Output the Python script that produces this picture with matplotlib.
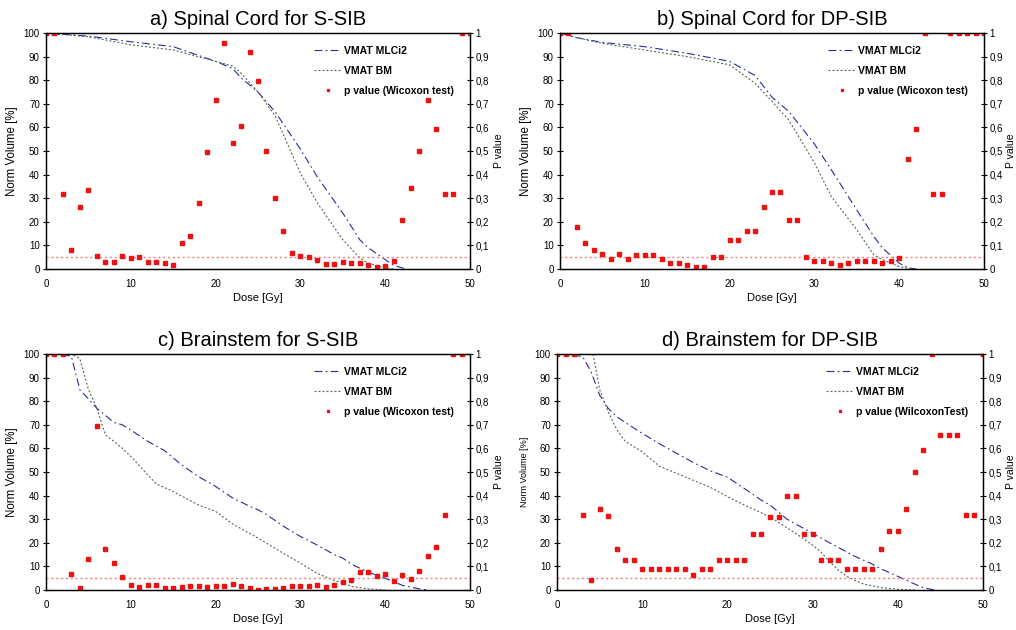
import numpy as np
import matplotlib
matplotlib.use("Agg")
import matplotlib.pyplot as plt
from matplotlib.ticker import MultipleLocator, FuncFormatter

plt.rcParams['font.family'] = ['Liberation Sans', 'DejaVu Sans']

nan = np.nan
p_dose = list(range(51))

# --- a) Spinal Cord for S-SIB
a_dose = [0, 5, 10, 15, 20, 22, 23, 25, 27, 30, 32, 35, 37, 38, 40, 41, 42, 42.5]
a_mlc = [100, 98.7, 96.3, 94.2, 88, 85, 81, 75, 66.7, 50.8, 39, 23.7, 12.4, 9, 4, 1.5, 0.5, 0]
a_bm_dose = [0, 5, 10, 15, 20, 22, 23, 25, 27, 30, 32, 35, 37, 38, 40, 41]
a_bm = [100, 98.4, 95, 92.8, 88, 86, 83, 75, 65, 40.6, 28, 12.4, 4.7, 2.5, 0.4, 0]
a_p = [1.0, 1.0, 0.319, 0.079, 0.264, 0.333, 0.054, 0.030, 0.030, 0.055,
       0.047, 0.052, 0.030, 0.030, 0.025, 0.018, 0.111, 0.140, 0.281, 0.495,
       0.718, 0.959, 0.535, 0.606, 0.918, 0.795, 0.501, 0.299, 0.161, 0.069,
       0.055, 0.049, 0.038, 0.023, 0.020, 0.030, 0.027, 0.024, 0.016, 0.010,
       0.014, 0.035, 0.207, 0.344, 0.501, 0.716, 0.594, 0.317, 0.317, 1.0, 1.0]

# --- b) Spinal Cord for DP-SIB
b_dose = [0, 2, 5, 10, 15, 20, 23, 25, 27, 30, 32, 35, 37, 38, 40, 41, 42]
b_mlc = [100, 98, 96, 94.2, 91.4, 88, 82, 72.8, 66.7, 53, 42, 25, 13.8, 9, 2.5, 0.5, 0]
b_bm_dose = [0, 2, 5, 10, 15, 20, 23, 25, 27, 30, 32, 35, 37, 38, 40, 41, 42]
b_bm = [100, 98, 95.6, 92.8, 90, 86.5, 78.7, 71, 63, 45, 30.7, 16.6, 6, 4, 1, 0.3, 0]
b_p = [1.0, 1.0, 0.179, 0.109, 0.080, 0.063, 0.044, 0.063, 0.044, 0.061,
       0.061, 0.061, 0.044, 0.027, 0.027, 0.018, 0.010, 0.010, 0.049, 0.049,
       0.123, 0.123, 0.162, 0.162, 0.264, 0.327, 0.327, 0.207, 0.207, 0.049,
       0.035, 0.035, 0.025, 0.016, 0.025, 0.035, 0.035, 0.035, 0.025, 0.035,
       0.045, 0.465, 0.594, 1.0, 0.319, 0.319, 1.0, 1.0, 1.0, 1.0, 1.0]

# --- c) Brainstem for S-SIB
c_dose = [0, 2, 3, 4, 5, 6, 7, 8, 9, 10, 12, 14, 16, 18, 20, 22, 24, 25, 26,
          28, 30, 32, 34, 35, 36, 38, 40, 42, 44, 45]
c_mlc = [100, 100, 98.9, 84.8, 81, 77, 74, 71, 70, 67.8, 63, 59, 53, 48, 43.9,
         39, 35.5, 34, 32, 27, 22.7, 19, 15, 13.5, 11, 7.5, 5, 2, 0.5, 0]
c_bm_dose = [0, 3, 4, 5, 6, 7, 8, 9, 10, 12, 13, 15, 18, 20, 22, 25, 28, 30,
             32, 34, 35, 36, 38, 40]
c_bm = [100, 100, 98, 85, 77, 65.7, 63, 60, 56.6, 48.8, 45, 41.7, 36, 33.3,
        28, 22, 15.5, 11.4, 7, 4, 3, 1.5, 0.5, 0]
c_p = [1.0, 1.0, 1.0, 0.068, 0.010, 0.130, 0.695, 0.172, 0.115, 0.055,
       0.021, 0.013, 0.021, 0.021, 0.007, 0.008, 0.014, 0.016, 0.016, 0.013,
       0.016, 0.016, 0.027, 0.018, 0.007, 0.001, 0.006, 0.006, 0.007, 0.016,
       0.018, 0.018, 0.020, 0.014, 0.023, 0.034, 0.044, 0.075, 0.075, 0.059,
       0.068, 0.038, 0.063, 0.048, 0.080, 0.145, 0.181, 0.319, 1.0, 1.0, nan]

# --- d) Brainstem for DP-SIB
d_dose = [0, 3, 4, 5, 6, 7, 8, 10, 12, 14, 16, 18, 20, 22, 24, 25, 27, 30, 32,
          35, 37, 38, 40, 42, 43, 44, 44.5]
d_mlc = [100, 99, 92.5, 82.6, 77, 73.5, 71, 66.4, 62, 58, 54, 50.5, 47.8, 43,
         38, 36, 30, 24, 20, 14.2, 11, 9, 5.8, 2.5, 1, 0.2, 0]
d_bm_dose = [0, 4.2, 4.5, 5, 6, 7, 8, 10, 12, 14, 16, 18, 20, 22, 25, 28, 30,
             31, 32, 33, 34, 35, 36, 38, 40, 42]
d_bm = [100, 100, 95, 85, 75.6, 68, 63, 58.6, 52.5, 49.5, 46.5, 43.5, 39.6,
        36, 31, 24, 19, 16, 12, 8.5, 5.8, 4, 2.5, 1, 0.3, 0]
d_p = [1.0, 1.0, 1.0, 0.317, 0.042, 0.344, 0.312, 0.175, 0.127, 0.127,
       0.090, 0.090, 0.090, 0.090, 0.090, 0.090, 0.062, 0.090, 0.090, 0.127,
       0.127, 0.127, 0.127, 0.236, 0.236, 0.310, 0.310, 0.398, 0.398, 0.236,
       0.236, 0.127, 0.127, 0.127, 0.090, 0.090, 0.090, 0.090, 0.172, 0.248,
       0.248, 0.344, 0.502, 0.594, 1.0, 0.656, 0.656, 0.656, 0.317, 0.317, 1.0]

panels = [
    ("a) Spinal Cord for S-SIB", a_dose, a_mlc, a_bm_dose, a_bm, a_p,
     "p value (Wicoxon test)", [46, 33, 424, 236], 8.3, 1.057),
    ("b) Spinal Cord for DP-SIB", b_dose, b_mlc, b_bm_dose, b_bm, b_p,
     "p value (Wicoxon test)", [560, 33, 424, 236], 8.3, 1.052),
    ("c) Brainstem for S-SIB", c_dose, c_mlc, c_bm_dose, c_bm, c_p,
     "p value (Wicoxon test)", [46, 354, 424, 236], 8.3, 1.057),
    ("d) Brainstem for DP-SIB", d_dose, d_mlc, d_bm_dose, d_bm, d_p,
     "p value (WilcoxonTest)", [557, 354, 426, 236], 6.5, 1.053),
]

W, H = 1016, 630
fig = plt.figure(figsize=(W / 100, H / 100), dpi=100)

comma = FuncFormatter(lambda v, pos: ("%g" % round(v, 2)).replace(".", ","))

for title, xd, mlc, xb, bm, pv, plabel, box, ylfs, plx in panels:
    l, t, w, h = box
    ax = fig.add_axes([l / W, 1 - (t + h) / H, w / W, h / H])
    ax.plot(xd, mlc, color="#2b2b9a", lw=0.8, dashes=(7, 3, 1.5, 3),
            label="VMAT MLCi2")
    ax.plot(xb, bm, color="#4f6a4f", lw=0.8, dashes=(1.8, 1.8),
            label="VMAT BM")
    ax.set_xlim(0, 50)
    ax.set_ylim(0, 100)
    ax.xaxis.set_major_locator(MultipleLocator(10))
    ax.yaxis.set_major_locator(MultipleLocator(10))
    ax.tick_params(axis="x", length=0, labelsize=7, pad=7)
    ax.tick_params(axis="y", direction="inout", length=5, labelsize=7, pad=2)
    ax.set_xlabel("Dose [Gy]", fontsize=8, labelpad=3)
    ax.set_ylabel("Norm Volume [%]", fontsize=ylfs, labelpad=4)
    ax.set_title(title, fontsize=14.5, pad=6)

    ax2 = ax.twinx()
    ax2.axhline(0.05, color="#f08080", lw=1, ls=(0, (1.5, 2)), zorder=1)
    ax2.plot(p_dose, pv, ls="none", marker="s", ms=2.8, color="#ee1111",
             mec="#ee1111", label=plabel)
    ax2.set_ylim(0, 1)
    ax2.yaxis.set_major_locator(MultipleLocator(0.1))
    ax2.yaxis.set_major_formatter(comma)
    ax2.tick_params(axis="y", direction="inout", length=5, labelsize=7, pad=1.5)
    ax2.set_ylabel("P value", fontsize=7.5)
    ax2.yaxis.set_label_coords(plx, 0.5)
    for s in list(ax.spines.values()) + list(ax2.spines.values()):
        s.set_linewidth(0.9)

    h1, lab1 = ax.get_legend_handles_labels()
    h2, lab2 = ax2.get_legend_handles_labels()
    ax2.legend(h1 + h2, lab1 + lab2, loc="upper left",
               bbox_to_anchor=(0.61, 0.985), frameon=False,
               prop={"size": 7.5, "weight": "bold"}, labelspacing=0.95,
               handlelength=2.6, handletextpad=0.3, markerscale=0.7)

fig.savefig("out.png", dpi=100)
